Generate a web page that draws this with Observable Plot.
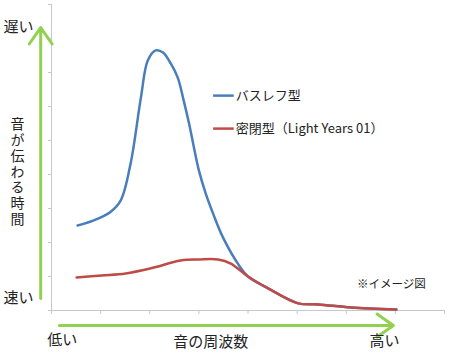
<!DOCTYPE html>
<html>
<head>
<meta charset="utf-8">
<script src="https://cdn.jsdelivr.net/npm/d3@7"></script>
<script src="https://cdn.jsdelivr.net/npm/@observablehq/plot@0.6"></script>
<style>
  body { margin: 0; background: #fff; }
  svg { font-family: "Noto Sans CJK JP", "Noto Sans", sans-serif; }
</style>
</head>
<body>
<div id="chart"></div>
<script>
// Series (x: frequency position, y: time position)
const bassX = [0.53, 0.86, 1.2, 1.41, 1.61, 1.82, 1.96, 2.12, 2.27, 2.43, 2.57, 2.69, 2.8, 2.9, 3.0, 3.14, 3.29, 3.49, 3.82, 4.0, 4.41, 5.02, 5.43, 6.1, 7.02];
const bassY = [2.5, 2.65, 2.9, 3.24, 4.32, 6.26, 7.35, 7.65, 7.59, 7.26, 6.85, 6.18, 5.5, 4.79, 4.12, 3.44, 2.85, 2.15, 1.32, 1.0, 0.65, 0.21, 0.18, 0.09, 0.03];
const closedX = [0.51, 1.02, 1.51, 2.02, 2.63, 3.0, 3.39, 3.65, 4.0, 4.41, 5.02, 5.43, 6.1, 7.02];
const closedY = [0.97, 1.03, 1.09, 1.24, 1.47, 1.5, 1.5, 1.38, 1.0, 0.65, 0.21, 0.18, 0.09, 0.03];

// Series names & colours
const seriesNames = ["バスレフ型", "密閉型（Light Years 01）"];
const seriesColors = ["#4a7ebb", "#be4b48"];

// Axis ticks
const xTicks = [0, 1, 2, 3, 4, 5, 6, 7, 8];
const yTicks = [0, 1, 2, 3, 4, 5, 6, 7, 8, 9];

// Annotation texts
const yTop = "遅い", yBottom = "速い", yTitle = "音が伝わる時間";
const xLeft = "低い", xRight = "高い", xTitle = "音の周波数";
const note = "※イメージ図";

// Annotation positions (in data units)
const arrows = [
  {x1: -0.22, y1: 0.35, x2: -0.22, y2: 8.32},
  {x1: 0.16, y1: -0.44, x2: 6.96, y2: -0.44}
];
const labels = [
  {x: -0.67, y: 8.32, text: yTop},
  {x: -0.67, y: 0.35, text: yBottom},
  {x: 0.22, y: -0.86, text: xLeft},
  {x: 6.78, y: -0.9, text: xRight},
  {x: 3.24, y: -0.92, text: xTitle}
];
const legendPos = [{x1: 3.29, x2: 3.71, y: 6.32}, {x1: 3.29, x2: 3.71, y: 5.35}];

const bass = bassX.map((x, i) => ({x, y: bassY[i]}));
const closed = closedX.map((x, i) => ({x, y: closedY[i]}));
const legend = legendPos.map((d, i) => ({...d, name: seriesNames[i], color: seriesColors[i]}));

const chart = Plot.plot({
  width: 450,
  height: 354,
  marginLeft: 51,
  marginRight: 6,
  marginTop: 4,
  marginBottom: 44,
  x: {domain: [0, 8], label: null},
  y: {domain: [0, 9], label: null},
  style: {background: "#fff", fontFamily: '"Noto Sans CJK JP", "Noto Sans", sans-serif'},
  marks: [
    Plot.axisX({ticks: xTicks, tickFormat: () => "", tickSize: 4, stroke: "#c8c8c8", label: null}),
    Plot.axisY({ticks: yTicks, tickFormat: () => "", tickSize: 3, stroke: "#c8c8c8", label: null}),
    Plot.ruleY([0], {stroke: "#c8c8c8"}),
    Plot.ruleX([0], {stroke: "#c8c8c8"}),
    Plot.line(bass, {x: "x", y: "y", stroke: seriesColors[0], strokeWidth: 2.5, curve: "catmull-rom"}),
    Plot.line(closed, {x: "x", y: "y", stroke: seriesColors[1], strokeWidth: 2.5, curve: "catmull-rom"}),
    Plot.arrow(arrows, {x1: "x1", y1: "y1", x2: "x2", y2: "y2", stroke: "#92d050", strokeWidth: 3, headLength: 10, headAngle: 70}),
    Plot.text(labels, {x: "x", y: "y", text: "text", fontSize: 15, fill: "#222"}),
    Plot.text([yTitle], {x: -0.69, y: 4.2, text: d => d, fontSize: 14, fill: "#222"}),
    Plot.text([note], {x: 6.92, y: 0.76, text: d => d, fontSize: 11.5, fill: "#222"}),
    Plot.link(legend, {x1: "x1", x2: "x2", y1: "y", y2: "y", stroke: "color", strokeWidth: 2.5}),
    Plot.text(legend, {x: "x2", y: "y", text: "name", textAnchor: "start", dx: 2, fontSize: 13, fill: "#222"})
  ]
});
// Stack the y title vertically (upright characters)
chart.querySelectorAll("text").forEach(t => {
  if (t.textContent === yTitle) {
    t.style.writingMode = "vertical-rl";
    t.style.textOrientation = "upright";
    t.style.letterSpacing = "1.8px";
    t.removeAttribute("dy");
  }
});
document.getElementById("chart").appendChild(chart);
</script>
</body>
</html>
